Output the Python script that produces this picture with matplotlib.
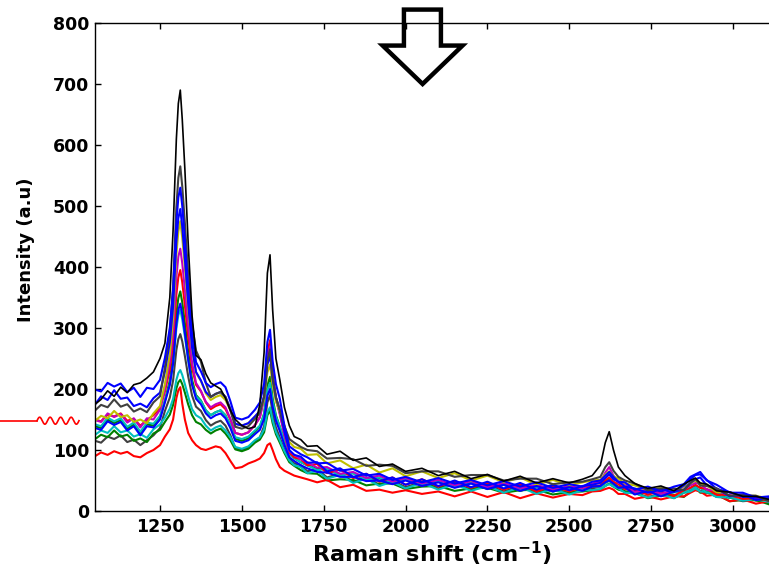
import numpy as np
import matplotlib.pyplot as plt
from matplotlib.patches import Polygon
from matplotlib.lines import Line2D

plt.rcParams['font.weight'] = 'bold'
plt.rcParams['mathtext.default'] = 'bf'

# Raman shift axis (cm^-1), shared by all spectra
raman_shift = [1052, 1070, 1090, 1110, 1130, 1150, 1170, 1190, 1210, 1230, 1250,
               1265, 1280, 1290, 1300, 1306, 1312, 1318, 1326, 1336, 1348,
               1360, 1375, 1390, 1405, 1420, 1435, 1450, 1465, 1480, 1500,
               1520, 1540, 1555, 1568, 1578, 1586, 1594, 1604, 1616, 1630,
               1645, 1660, 1680, 1700, 1730, 1760, 1800, 1840, 1880, 1920,
               1960, 2000, 2050, 2100, 2150, 2200, 2250, 2300, 2350, 2400,
               2450, 2500, 2540, 2570, 2595, 2610, 2622, 2635, 2650, 2670,
               2700, 2740, 2780, 2820, 2850, 2870, 2885, 2900, 2920, 2950,
               2990, 3030, 3070, 3110]

# Intensities (a.u) of each measured spectrum
spec_black = [175, 183, 197, 188, 203, 194, 207, 210, 218, 228, 250,
              275, 350, 460, 610, 668, 690, 642, 560, 440, 320,
              255, 248, 225, 210, 205, 200, 185, 165, 150, 140,
              135, 138, 175, 260, 390, 420, 330, 250, 215, 170,
              140, 122, 117, 106, 107, 93, 98, 83, 87, 73,
              77, 65, 70, 58, 65, 53, 60, 49, 57, 46,
              53, 46, 52, 58, 75, 112, 130, 100, 72, 58,
              45, 37, 41, 33, 44, 50, 54, 46, 44, 33,
              31, 24, 24, 19]
spec_gray_a = [165, 174, 170, 183, 171, 175, 163, 168, 162, 178, 188,
               235, 296, 369, 498, 546, 565, 532, 472, 389, 307,
               263, 245, 210, 187, 192, 195, 187, 165, 138, 135,
               139, 151, 161, 188, 247, 265, 220, 187, 165, 139,
               118, 112, 105, 100, 98, 86, 87, 85, 74, 76,
               74, 62, 65, 65, 56, 59, 59, 50, 53, 53,
               44, 47, 48, 52, 56, 72, 80, 66, 56, 50,
               45, 34, 37, 37, 34, 46, 53, 42, 41, 37,
               25, 26, 25, 16]
spec_blue_a = [199, 196, 210, 204, 209, 195, 202, 187, 202, 200, 215,
               251, 300, 362, 473, 514, 530, 500, 445, 366, 289,
               244, 229, 210, 203, 208, 211, 203, 180, 153, 150,
               154, 166, 178, 209, 277, 297, 246, 208, 184, 140,
               106, 100, 93, 88, 78, 79, 66, 69, 58, 61,
               51, 56, 47, 54, 45, 51, 42, 49, 40, 47,
               38, 44, 40, 48, 50, 58, 64, 56, 48, 47,
               35, 40, 32, 40, 44, 56, 60, 64, 50, 43,
               30, 30, 22, 24]
spec_yellow = [148, 156, 152, 164, 154, 157, 146, 150, 144, 160, 172,
               208, 257, 316, 420, 458, 475, 448, 400, 332, 265,
               227, 213, 193, 182, 187, 190, 182, 165, 143, 140,
               144, 155, 163, 183, 227, 240, 207, 180, 162, 140,
               113, 105, 102, 92, 93, 78, 83, 70, 76, 63,
               70, 57, 65, 54, 62, 50, 58, 47, 55, 43,
               51, 42, 47, 50, 51, 60, 65, 57, 53, 45,
               42, 34, 38, 31, 40, 45, 50, 44, 42, 31,
               31, 24, 25, 20]
spec_magenta = [149, 146, 160, 154, 159, 145, 152, 137, 152, 150, 166,
                200, 242, 293, 383, 417, 430, 406, 363, 303, 243,
                210, 197, 179, 170, 175, 178, 170, 151, 128, 125,
                129, 141, 153, 184, 250, 270, 219, 183, 158, 125,
                98, 92, 85, 80, 71, 72, 61, 64, 54, 58,
                48, 54, 45, 51, 42, 49, 39, 46, 37, 43,
                35, 41, 37, 45, 48, 63, 72, 58, 46, 44,
                31, 36, 28, 34, 35, 42, 46, 44, 35, 34,
                25, 27, 19, 22]
spec_red_a = [150, 147, 158, 155, 160, 148, 151, 140, 149, 157, 168,
              196, 232, 276, 355, 383, 395, 375, 337, 286, 235,
              207, 196, 178, 167, 172, 175, 167, 150, 128, 125,
              129, 141, 154, 187, 259, 280, 226, 186, 161, 125,
              96, 88, 85, 75, 77, 62, 68, 54, 61, 48,
              55, 43, 52, 40, 49, 38, 46, 35, 44, 32,
              41, 32, 39, 40, 42, 50, 55, 48, 44, 36,
              34, 27, 32, 25, 34, 38, 43, 38, 36, 27,
              26, 20, 21, 17]
spec_blue_b = [175, 188, 182, 198, 184, 186, 172, 176, 170, 185, 194,
               229, 277, 335, 441, 480, 495, 466, 413, 341, 268,
               228, 214, 195, 187, 192, 195, 187, 168, 143, 140,
               144, 155, 164, 188, 240, 255, 216, 186, 166, 130,
               100, 92, 89, 79, 80, 65, 70, 56, 61, 49,
               55, 43, 52, 41, 50, 39, 48, 37, 46, 35,
               43, 34, 41, 43, 46, 54, 60, 52, 48, 40,
               37, 30, 35, 31, 42, 52, 59, 60, 51, 36,
               31, 23, 24, 19]
spec_cyan_a = [142, 139, 153, 147, 152, 138, 145, 130, 145, 143, 156,
               181, 208, 241, 299, 321, 330, 314, 286, 247, 208,
               188, 180, 165, 157, 162, 165, 157, 141, 121, 118,
               122, 132, 140, 158, 198, 210, 180, 155, 138, 115,
               93, 87, 80, 75, 67, 69, 58, 62, 51, 55,
               46, 52, 43, 49, 40, 46, 37, 43, 34, 40,
               32, 38, 34, 40, 40, 46, 50, 45, 38, 38,
               28, 33, 25, 31, 31, 36, 39, 38, 30, 31,
               22, 25, 18, 22]
spec_green_a = [118, 125, 121, 132, 122, 125, 115, 119, 113, 127, 133,
                146, 158, 174, 201, 211, 215, 208, 194, 175, 157,
                146, 142, 133, 127, 132, 135, 127, 116, 101, 98,
                102, 112, 117, 129, 157, 165, 144, 126, 112, 95,
                80, 74, 67, 62, 61, 50, 52, 51, 42, 45,
                45, 36, 40, 41, 33, 37, 38, 30, 34, 35,
                27, 31, 32, 34, 35, 41, 45, 40, 35, 32,
                30, 21, 25, 26, 23, 32, 38, 30, 30, 27,
                16, 18, 18, 11]
spec_green_b = [139, 136, 150, 144, 149, 135, 142, 127, 142, 140, 154,
                181, 214, 253, 323, 349, 360, 342, 308, 262, 215,
                190, 181, 165, 157, 162, 165, 157, 140, 118, 115,
                119, 130, 138, 160, 206, 220, 185, 157, 138, 115,
                93, 87, 80, 75, 69, 70, 59, 62, 51, 54,
                45, 52, 42, 49, 39, 46, 36, 43, 33, 40,
                32, 38, 34, 41, 41, 48, 52, 46, 39, 39,
                28, 33, 25, 31, 31, 37, 40, 39, 30, 31,
                22, 25, 17, 20]
spec_gray_b = [115, 112, 122, 118, 124, 113, 117, 108, 116, 124, 136,
               164, 186, 214, 264, 282, 290, 278, 254, 221, 189,
               171, 164, 149, 140, 145, 148, 140, 124, 103, 100,
               104, 114, 121, 139, 178, 190, 160, 137, 120, 100,
               86, 78, 75, 65, 69, 55, 61, 48, 55, 43,
               50, 39, 48, 37, 46, 35, 43, 32, 41, 30,
               38, 29, 36, 37, 40, 46, 50, 44, 40, 32,
               30, 23, 28, 21, 30, 33, 38, 33, 32, 23,
               22, 16, 18, 14]
spec_cyan_b = [125, 132, 128, 139, 129, 132, 122, 126, 120, 134, 142,
               153, 168, 184, 215, 226, 231, 223, 208, 188, 167,
               157, 152, 140, 132, 137, 140, 132, 121, 105, 102,
               106, 116, 121, 134, 162, 170, 149, 130, 116, 98,
               83, 75, 72, 62, 66, 53, 59, 46, 53, 41,
               48, 37, 46, 35, 44, 33, 41, 30, 39, 28,
               36, 27, 34, 34, 36, 41, 44, 40, 37, 30,
               29, 22, 27, 21, 30, 32, 37, 32, 31, 23,
               22, 17, 19, 15]
spec_red_b = [90, 96, 92, 98, 94, 97, 90, 88, 95, 100, 108,
              122, 134, 150, 185, 198, 203, 176, 150, 128, 116,
              108, 102, 100, 103, 106, 104, 95, 82, 70, 72,
              78, 82, 86, 95, 108, 111, 100, 85, 72, 66,
              62, 58, 55, 52, 47, 51, 39, 43, 33, 35,
              30, 34, 28, 32, 24, 32, 23, 31, 21, 29,
              22, 28, 26, 32, 33, 36, 38, 35, 28, 28,
              20, 24, 19, 24, 24, 30, 34, 32, 25, 27,
              16, 19, 12, 16]
spec_blue_c = [136, 133, 147, 141, 146, 132, 139, 124, 139, 137, 150,
               178, 207, 242, 307, 330, 340, 323, 292, 249, 207,
               184, 175, 160, 152, 157, 160, 152, 136, 115, 112,
               116, 126, 133, 151, 189, 200, 171, 148, 131, 108,
               88, 82, 75, 70, 64, 63, 56, 56, 49, 50,
               44, 50, 41, 47, 38, 45, 36, 43, 33, 41,
               32, 39, 33, 40, 41, 47, 50, 45, 38, 39,
               27, 33, 24, 32, 35, 46, 52, 55, 42, 37,
               24, 27, 18, 21]

# MATLAB-style line colours
blue = (0, 0, 1)
green = (0, 0.5, 0)
red = (1, 0, 0)
cyan = (0, 0.75, 0.75)
magenta = (0.75, 0, 0.75)
yellow = (0.75, 0.75, 0)
gray = (0.25, 0.25, 0.25)
black = (0, 0, 0)

# drawing order: first entry ends up underneath
spectra = [(spec_gray_b, gray), (spec_green_a, green), (spec_red_b, red),
           (spec_cyan_b, cyan), (spec_green_b, green), (spec_cyan_a, cyan),
           (spec_red_a, red), (spec_magenta, magenta), (spec_yellow, yellow),
           (spec_blue_c, blue), (spec_blue_b, blue), (spec_gray_a, gray),
           (spec_blue_a, blue), (spec_black, black)]

W, H = 769, 567
fig = plt.figure(figsize=(W / 100, H / 100), dpi=100)
ax = fig.add_axes([95 / W, 56 / H, 674 / W, 488 / H])

for values, color in spectra:
    lw = 1.2 if color == black else 1.5
    ax.plot(raman_shift, values, color=color, linewidth=lw)

ax.set_xlim(1051.5, 3110)
ax.set_ylim(0, 800)
ax.set_xticks(np.arange(1250, 3001, 250))
ax.set_yticks(np.arange(0, 801, 100))
ax.tick_params(direction='in', length=4, width=1, top=True, right=False,
               labelsize=12.5)
ax.tick_params(axis='x', pad=5)
ax.tick_params(axis='y', pad=4)
ax.spines['right'].set_visible(False)
for side in ['left', 'bottom', 'top']:
    ax.spines[side].set_linewidth(1.0)

ax.set_xlabel('Raman shift (cm$^{-1}$)', fontsize=16, fontweight='bold')
ax.xaxis.set_label_coords(0.5, -0.058)
ax.set_ylabel('Intensity (a.u)', fontsize=13, fontweight='bold')
ax.yaxis.set_label_coords(-0.089, 0.535)

# hollow arrow pointing down onto the spectra
arrow_pts = [(1995, 822), (2108, 822), (2108, 763), (2174, 763),
             (2052, 700), (1930, 763), (1995, 763)]
ax.add_patch(Polygon(arrow_pts, closed=True, fill=False, edgecolor='black',
                     linewidth=3.2, joinstyle='miter', clip_on=False, zorder=5))

# red wavy marker at the left margin
xs = np.linspace(37, 79, 200)
ys = 146.3 + 3.5 * np.sin(2 * np.pi * (xs - 37) / 10.5)
fig.add_artist(Line2D([0, 37 / W], [146.3 / H, 146.3 / H], color='red', linewidth=1.2))
fig.add_artist(Line2D(xs / W, ys / H, color='red', linewidth=1.2))

fig.savefig('out.png', dpi=100)
